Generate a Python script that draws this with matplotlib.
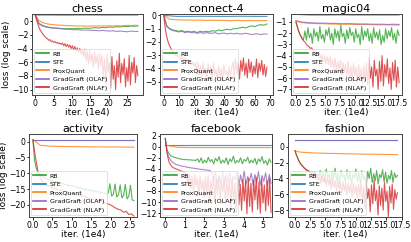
import numpy as np
import matplotlib
matplotlib.use("Agg")
import matplotlib.pyplot as plt

methods = ["RB", "STE", "ProxQuant", "GradGraft (OLAF)", "GradGraft (NLAF)"]
colors = ["#2ca02c", "#1f77b4", "#ff7f0e", "#9467bd", "#d62728"]

# ---------------- chess ----------------
chess_xmax = 28.0
chess_rb = [0.9, -0.3, -0.6, -0.8, -0.9, -1.0, -1.0, -1.05, -1.1, -1.1, -1.1, -1.1, -1.05, -1.1, -1.0,
            -1.05, -1.0, -0.95, -1.0, -0.9, -0.95, -0.85, -0.9, -0.8, -0.85, -0.75, -0.8, -0.7, -0.75, -0.7]
chess_ste = [0.9, 0.9, 0.88, 0.9, 0.9, 0.89, 0.9, 0.9]
chess_prox = [0.9, 0.1, -0.2, -0.35, -0.45, -0.5, -0.55, -0.6, -0.6, -0.65, -0.65, -0.7, -0.7, -0.7, -0.7,
              -0.72, -0.7, -0.72, -0.7, -0.7, -0.7, -0.68, -0.7, -0.65, -0.68, -0.65, -0.62, -0.65, -0.6, -0.62]
chess_olaf = [0.9, -0.4, -0.7, -0.85, -0.95, -1.0, -1.05, -1.1, -1.15, -1.2, -1.2, -1.25, -1.25, -1.3, -1.3,
              -1.3, -1.35, -1.35, -1.4, -1.35, -1.4, -1.45, -1.4, -1.5, -1.45, -1.5, -1.55, -1.45, -1.5, -1.5]
chess_nlaf = [0.9, 0.2, -0.4, -0.9, -1.3, -1.6, -1.9, -2.1, -2.3,
              -2.5, -2.6, -2.8, -2.7, -3.0, -2.9, -3.1, -3.0, -3.2, -3.1, -3.3, -3.2,
              -3.4, -3.2, -3.6, -3.3, -3.7, -3.4, -3.8, -3.5, -4.0, -3.6, -4.2, -3.7, -4.4, -3.9, -4.6, -4.0, -4.8, -4.2,
              -5.2, -4.1, -5.8, -4.4, -6.3, -4.3, -6.0, -4.8, -6.8, -4.5, -6.2, -5.0, -7.0, -4.7, -6.5,
              -5.0, -8.0, -5.5, -9.2, -4.8, -7.5, -6.0, -9.8, -5.2, -8.5, -6.5, -10.0, -5.8, -8.2, -4.7,
              -9.0, -6.2, -7.8, -5.5, -9.6, -6.8, -8.8, -5.0, -9.3, -6.0, -7.6, -5.3, -9.0, -6.5, -8.0]

# ---------------- connect-4 ----------------
c4_xmax = 68.0
c4_rb = [0.0, -0.8, -1.0, -1.1, -1.15, -1.2, -1.15, -1.25, -1.2, -1.25, -1.2, -1.3, -1.2, -1.25, -1.2, -1.25,
         -1.15, -1.2, -1.1, -1.15, -1.1, -1.05, -1.1, -1.0, -1.0, -0.95, -0.9, -0.95, -0.85, -0.8, -0.85, -0.75,
         -0.7, -0.75, -0.65]
c4_ste = [0.0, -0.08, -0.08, -0.07, -0.08, -0.08, -0.07, -0.08, -0.08]
c4_prox = [0.0, -0.3, -0.33, -0.35, -0.35, -0.37, -0.36, -0.38, -0.37, -0.38, -0.38, -0.4, -0.38, -0.4,
           -0.39, -0.4, -0.4, -0.4]
c4_olaf = [0.0, -0.85, -1.05, -1.15, -1.2, -1.25, -1.2, -1.3, -1.25, -1.3, -1.3, -1.35, -1.3, -1.35, -1.3,
           -1.35, -1.35, -1.3, -1.4, -1.35, -1.35, -1.4, -1.35, -1.4, -1.35, -1.4, -1.4, -1.35, -1.4, -1.45,
           -1.4, -1.4, -1.45, -1.4, -1.42]
c4_nlaf = [0.0, -0.9, -1.5, -1.9, -2.2, -2.4, -2.6, -2.7, -2.9, -3.0, -3.05,
           -3.1, -3.0, -3.3, -3.1, -3.4, -3.2, -3.5, -3.3, -3.6, -3.4, -3.7, -3.5, -3.8,
           -3.6, -4.2, -3.5, -4.5, -3.8, -4.7, -3.6, -4.3, -4.0, -4.8, -3.7, -4.4, -3.9, -4.9, -3.6,
           -4.5, -4.1, -4.8, -3.8, -4.6, -4.0, -4.9, -3.7, -4.4, -4.2, -4.7, -3.9, -4.6, -4.0,
           -3.5, -4.6, -3.3, -4.4, -3.6, -4.8, -3.4, -4.2, -3.2, -4.5, -3.6, -4.7, -3.3, -4.3,
           -3.5, -4.6, -3.8, -4.4, -3.3, -4.7, -3.6, -4.2, -3.4, -4.5, -3.7, -4.6, -3.9]

# ---------------- magic04 ----------------
mg_xmax = 17.6
mg_rb = [-1.0, -1.5, -1.9, -2.2, -2.5, -2.6,
         -1.8, -2.6, -1.5, -2.4, -2.0, -2.9, -1.6, -2.3, -1.9, -2.7, -1.4, -2.5, -2.1, -2.8, -1.7, -2.2,
         -1.5, -2.6, -2.0, -3.0, -1.6, -2.4, -1.8, -2.7, -1.3, -2.3, -2.0, -2.9, -1.7, -2.5, -1.5, -2.2,
         -1.9, -2.8, -1.6, -2.4, -2.1, -3.0, -1.4, -2.6, -1.8, -2.3, -1.6, -2.7, -2.0, -2.9, -1.5, -2.4,
         -1.9, -2.6, -1.7, -3.0, -2.2, -2.8, -1.6, -2.5, -1.8, -2.3, -1.5, -2.6, -2.0, -2.9, -1.7, -2.2]
mg_ste = [-0.33, -0.38, -0.38, -0.37, -0.38, -0.38, -0.38, -0.38]
mg_prox = [-0.9, -1.05, -1.1, -1.12, -1.15, -1.15, -1.18, -1.18, -1.2, -1.2, -1.2, -1.22, -1.22, -1.22,
           -1.25, -1.25, -1.25, -1.25, -1.27, -1.27]
mg_olaf = [-0.9, -1.0, -1.05, -1.08, -1.1, -1.1, -1.12, -1.12, -1.15, -1.15, -1.15, -1.17, -1.18, -1.18,
           -1.2, -1.2, -1.2, -1.22, -1.2, -1.22]
mg_nlaf = [-1.0, -1.4, -1.8, -2.1, -2.3, -2.5, -2.7, -2.8, -3.0, -3.1, -3.2, -3.35, -3.3, -3.5, -3.6,
           -3.7, -3.8, -3.9,
           -3.8, -4.3, -3.9, -4.5, -4.0, -4.7, -4.1, -4.8, -4.0, -5.0, -4.3, -5.2, -4.2, -5.4, -4.5, -5.3,
           -4.4, -5.7, -4.6, -5.5, -4.8, -5.9, -4.5, -6.0, -4.9, -6.2, -4.7, -5.8, -5.0, -6.4, -4.8, -6.1,
           -5.1, -6.5, -4.9, -6.3,
           -4.6, -6.6, -4.2, -6.0, -5.0, -6.8, -4.4, -5.8, -5.2, -7.0, -4.5, -6.3, -4.0, -6.7, -4.8, -5.9,
           -4.3, -6.5, -5.1, -7.0, -4.6, -6.2, -4.4, -6.8, -5.0, -6.4]

# ---------------- activity ----------------
ac_xmax = 2.6
ac_rb = [0.6, -6.0, -8.5, -9.6, -10.3, -10.8, -11.2, -11.5, -11.8, -12.0, -12.2, -12.3,
         -12.4, -12.8, -12.6, -13.1, -12.9, -13.4, -13.2, -13.7, -13.5, -14.0, -13.8, -14.2, -14.0, -14.5,
         -14.3, -14.8, -14.6, -15.0, -14.8, -15.3, -15.1, -15.5, -15.3, -15.7, -15.5, -15.9, -15.7, -16.1,
         -15.9, -16.2,
         -16.3, -16.5, -16.2, -13.3, -17.2, -16.6, -13.4, -17.5, -16.8, -13.6, -17.8, -17.0, -13.5, -18.1,
         -17.3, -13.8, -18.4, -18.6]
ac_ste = [0.6, 0.6, 0.6, 0.6, 0.6, 0.6]
ac_prox = [0.6, -1.2, -1.4, -1.5, -1.55, -1.6, -1.6, -1.65, -1.65, -1.7, -1.7, -1.7, -1.75, -1.75]
ac_olaf = [0.6, 0.6, 0.6, 0.6, 0.6, 0.6]
ac_nlaf = [0.6, -5.0, -9.5, -11.5, -12.9, -13.6, -14.0, -14.4, -14.7, -14.9, -15.2, -15.4, -15.6, -15.8,
           -16.0, -16.3, -16.5, -16.7, -17.0, -17.2, -17.4, -17.7, -17.9, -18.1, -18.3, -18.5, -18.7, -19.0,
           -19.3, -19.6, -20.0, -20.5, -21.0, -21.4, -21.6, -22.3, -22.0, -23.0, -22.8, -23.5]

# ---------------- facebook ----------------
fb_xmax = 5.4
fb_rb = [1.5, -0.6, -1.2, -1.6, -1.8, -1.9, -2.0, -2.1, -2.2, -2.25, -2.3, -2.35, -2.3, -2.4, -2.35, -2.45,
         -2.4, -2.5,
         -2.2, -2.8, -2.0, -3.0, -2.4, -2.9, -1.9, -2.7, -2.3, -3.1, -2.1, -2.6, -1.8, -3.0, -2.4, -2.9,
         -2.0, -3.2, -2.2, -2.7, -1.7, -3.0, -2.5, -2.8, -2.0, -3.1, -2.3, -2.6, -1.9, -3.0, -2.4, -2.9,
         -2.1, -3.2, -2.2, -2.7, -1.8, -3.0, -2.5, -3.3, -2.2, -2.8]
fb_ste = [0.3, 0.3, 0.3, 0.3, 0.3, 0.3]
fb_prox = [0.3, -0.1, -0.15, -0.15, -0.15, -0.15, -0.15, -0.15, -0.15, -0.15]
fb_olaf = [1.5, -1.0, -1.9, -2.4, -2.8, -3.0, -3.2, -3.3, -3.4, -3.5, -3.55, -3.6, -3.7, -3.75, -3.8,
           -3.85, -3.9, -3.95, -4.0, -4.05, -4.1, -4.1, -4.2, -4.2, -4.25, -4.3,
           -4.8, -6.2, -4.6, -6.8, -5.2, -6.5, -4.5, -7.0, -5.0, -6.3, -4.7, -6.9, -5.3, -6.0, -4.6, -7.2,
           -5.1, -6.6, -4.4, -6.8, -5.4, -6.2, -4.8, -7.0, -5.0, -6.5, -4.5, -6.9, -5.2, -6.3, -4.7, -7.1,
           -5.0, -6.6]
fb_nlaf = [1.5, -0.7, -2.0, -2.9, -3.3, -3.6, -3.8, -3.9, -4.0, -4.1, -4.2, -4.3, -4.4, -4.5, -4.6, -4.8,
           -5.2, -6.8, -5.0, -7.5, -5.4, -8.0, -5.1, -7.2, -5.6, -8.8, -5.3, -7.8, -6.0, -9.2, -5.5, -8.4,
           -5.2, -9.5, -6.1, -8.0, -5.4, -9.8, -5.8, -8.6, -5.3, -9.6, -6.2, -8.2, -5.5, -10.0, -5.9, -9.0,
           -6.0, -11.0, -5.8, -9.5, -6.5, -12.0, -5.6, -10.5, -6.8, -11.5, -5.9, -9.8, -6.2, -12.1, -5.7,
           -10.8, -6.6, -11.8, -6.0, -9.6, -5.5, -11.3, -6.4, -12.0, -5.8, -10.2, -6.9, -11.6, -6.1, -10.6,
           -5.7, -11.9]

# ---------------- fashion ----------------
fa_xmax = 16.8
fa_rb = [-0.5, -1.1, -1.5, -1.9, -2.2, -2.4, -2.6, -2.8, -2.9, -3.0, -3.1, -3.2, -3.3, -3.2, -3.4, -3.5, -3.6,
         -3.0, -4.1, -3.3, -4.4, -2.8, -3.9, -3.5, -4.6, -3.1, -4.0, -2.7, -4.3, -3.4, -4.7, -3.0, -3.8,
         -3.6, -4.5, -2.9, -4.2, -3.2, -4.8, -3.5, -3.9, -2.8, -4.4, -3.3, -4.6, -3.0, -4.1, -3.7, -4.9,
         -3.1, -4.0, -2.7, -4.5, -3.4, -4.3, -3.0, -4.7, -3.5, -3.9, -2.9, -4.4, -3.2, -4.6, -3.6, -4.1,
         -3.0, -4.5, -3.3, -3.9, -3.6]
fa_ste = [0.9, 0.9, 0.9, 0.9, 0.9, 0.9]
fa_prox = [-0.5, -0.65, -0.7, -0.72, -0.75, -0.78, -0.8, -0.8, -0.82, -0.83, -0.85, -0.85, -0.86, -0.88,
           -0.88, -0.9, -0.9, -0.9, -0.92, -0.92, -0.94, -0.94, -0.95, -0.95, -0.96, -0.97, -0.97, -0.98,
           -0.99, -1.0]
fa_olaf = [0.9, 0.9, 0.9, 0.9, 0.9, 0.9]
fa_nlaf = [-0.5, -1.0, -1.4, -1.8, -2.1, -2.3, -2.5, -2.7, -2.8, -3.0, -3.1, -3.2, -3.3, -3.4, -3.5,
           -3.3, -4.0, -3.5, -4.3, -3.6, -4.6, -3.7, -4.5, -3.9, -5.0, -3.8, -4.8, -4.1, -5.3, -4.0, -5.1,
           -4.3, -5.6, -4.2, -5.4, -4.5, -5.9, -4.4, -5.6, -4.6, -6.1, -4.5, -5.8, -4.8, -6.3, -4.6, -5.9,
           -4.9, -6.4, -4.7,
           -6.2, -4.4, -7.0, -5.0, -7.8, -4.6, -6.5, -5.3, -8.2, -4.8, -7.2, -4.2, -6.8, -5.5, -8.6, -4.9,
           -7.4, -5.2, -8.0, -4.5, -6.9, -5.6, -8.8, -5.0, -7.1, -4.7, -7.9, -5.4, -6.6, -5.8]

panels = [
    ("chess", chess_xmax, [chess_rb, chess_ste, chess_prox, chess_olaf, chess_nlaf],
     (-0.9, 29.4), (-10.8, 1.05), [0, 5, 10, 15, 20, 25], [0, -2, -4, -6, -8, -10]),
    ("connect-4", c4_xmax, [c4_rb, c4_ste, c4_prox, c4_olaf, c4_nlaf],
     (-2.5, 72.0), (-6.0, 0.1), [0, 10, 20, 30, 40, 50, 60, 70], [0, -1, -2, -3, -4, -5]),
    ("magic04", mg_xmax, [mg_rb, mg_ste, mg_prox, mg_olaf, mg_nlaf],
     (-0.85, 18.1), (-7.5, -0.29), [0, 2.5, 5, 7.5, 10, 12.5, 15, 17.5], [-1, -2, -3, -4, -5, -6, -7]),
    ("activity", ac_xmax, [ac_rb, ac_ste, ac_prox, ac_olaf, ac_nlaf],
     (-0.1, 2.68), (-23.8, 2.4), [0, 0.5, 1.0, 1.5, 2.0, 2.5], [0, -5, -10, -15, -20]),
    ("facebook", fb_xmax, [fb_rb, fb_ste, fb_prox, fb_olaf, fb_nlaf],
     (-0.27, 5.45), (-12.7, 2.3), [0, 1, 2, 3, 4, 5], [2, 0, -2, -4, -6, -8, -10, -12]),
    ("fashion", fa_xmax, [fa_rb, fa_ste, fa_prox, fa_olaf, fa_nlaf],
     (-1.15, 17.55), (-8.85, 1.6), [0, 2.5, 5, 7.5, 10, 12.5, 15, 17.5], [0, -2, -4, -6, -8]),
]

# axes rectangles in pixels: left, top, right, bottom
W, H = 411, 242
rects = [
    (32, 14, 143, 95), (160, 14, 273, 95), (291, 14, 402, 95),
    (29, 134, 137, 217), (160, 134, 272, 217), (288, 134, 402, 217),
]

fig = plt.figure(figsize=(W / 100, H / 100), dpi=100)
for i, ((title, xmax, series, xl, yl, xt, yt), (l, t, r, b)) in enumerate(zip(panels, rects)):
    ax = fig.add_axes([l / W, 1 - b / H, (r - l) / W, (b - t) / H])
    for name, col, vals in zip(methods, colors, series):
        x = np.linspace(0, xmax, len(vals))
        ax.plot(x, vals, color=col, lw=0.8, alpha=0.8, label=name)
    ax.set_xlim(*xl)
    ax.set_ylim(*yl)
    ax.set_xticks(xt)
    ax.set_yticks(yt)
    ax.tick_params(labelsize=5.6, length=1.8, width=0.6, pad=1)
    ax.set_title(title, fontsize=8, pad=1.5)
    ax.set_xlabel("iter. (1e4)", fontsize=6.5, labelpad=0)
    if i % 3 == 0:
        ax.set_ylabel("loss (log scale)", fontsize=6.5, labelpad=0.5)
    for s in ax.spines.values():
        s.set_linewidth(0.7)
        s.set_color("#444444")
    leg = ax.legend(loc="lower left", fontsize=4.5, frameon=True, borderaxespad=0.3,
                    handlelength=2.0, labelspacing=0.5, borderpad=0.4, handletextpad=0.6)
    for lh in leg.get_lines():
        lh.set_alpha(1.0)
        lh.set_linewidth(1.2)
    leg.get_frame().set_linewidth(0.5)

fig.savefig("out.png", dpi=100)
